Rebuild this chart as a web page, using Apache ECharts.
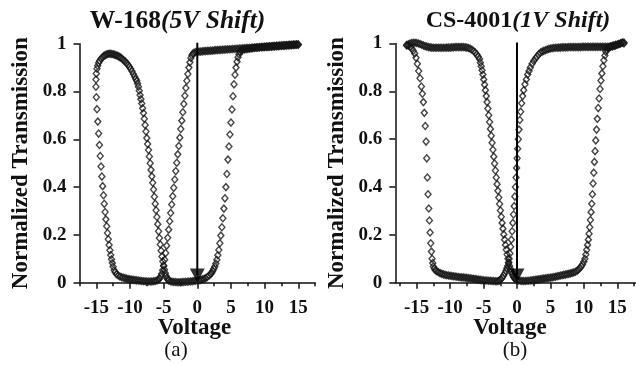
<!DOCTYPE html>
<html>
<head>
<meta charset="utf-8">
<script src="https://cdn.jsdelivr.net/npm/echarts@6/dist/echarts.min.js"></script>
<style>
  html, body { margin: 0; padding: 0; background: #fff; }
  #chart { width: 636px; height: 365px; }
</style>
</head>
<body>
<div id="chart"></div>
<script>
// Voltage sweeps, as [voltage, normalized transmission].
// DOWN = sweep from +V to -V, UP = sweep back from -V to +V.
const W168_DOWN = [
  [15,.997],[14.75,.997],[14.5,.996],[14.25,.996],[14,.995],[13.75,.995],[13.5,.994],[13.25,.994],[13,.993],[12.75,.993],
  [12.5,.992],[12.25,.992],[12,.991],[11.75,.991],[11.5,.99],[11.25,.99],[11,.989],[10.75,.989],[10.5,.988],[10.25,.988],
  [10,.987],[9.75,.987],[9.5,.986],[9.25,.986],[9,.985],[8.75,.985],[8.5,.984],[8.25,.984],[8,.983],[7.75,.983],
  [7.5,.982],[7.25,.982],[7,.981],[6.75,.981],[6.5,.98],[6.25,.98],[6,.979],[5.75,.979],[5.5,.978],[5.25,.978],
  [5,.977],[4.75,.977],[4.5,.976],[4.25,.976],[4,.975],[3.75,.975],[3.5,.974],[3.25,.974],[3,.973],[2.75,.973],
  [2.5,.972],[2.25,.971],[2,.971],[1.75,.97],[1.5,.97],[1.25,.969],[1,.969],[.75,.968],[.5,.967],[.25,.967],
  [0,.966],[-.25,.965],[-.5,.962],
  [-.65,.958],[-.8,.952],[-.95,.94],[-1.1,.922],[-1.25,.9],[-1.4,.873],[-1.55,.845],[-1.7,.815],[-1.85,.782],[-2,.748],
  [-2.15,.713],[-2.3,.678],[-2.45,.643],[-2.6,.607],[-2.75,.572],[-2.9,.537],[-3.05,.502],[-3.2,.467],[-3.35,.432],[-3.5,.397],
  [-3.65,.362],[-3.8,.327],[-3.95,.292],[-4.1,.257],[-4.25,.222],[-4.4,.188],[-4.55,.155],[-4.7,.124],[-4.85,.096],[-5,.072],
  [-5.15,.052],[-5.3,.037],[-5.45,.026],[-5.6,.018],[-5.75,.013],
  [-6,.009],[-6.25,.007],[-6.5,.006],[-6.75,.005],[-7,.005],[-7.25,.005],[-7.5,.005],[-7.75,.006],[-8,.006],[-8.25,.007],
  [-8.5,.008],[-8.75,.009],[-9,.01],[-9.25,.011],[-9.5,.012],[-9.75,.013],[-10,.014],[-10.25,.015],[-10.5,.017],[-10.75,.019],
  [-11,.021],[-11.25,.023],[-11.5,.026],[-11.75,.03],[-12,.036],[-12.2,.044],
  [-12.35,.052],[-12.5,.067],[-12.62,.082],[-12.74,.098],[-12.86,.116],[-12.98,.136],[-13.1,.158],[-13.22,.182],[-13.34,.208],[-13.46,.236],
  [-13.58,.265],[-13.7,.296],[-13.82,.33],[-13.94,.366],[-14.06,.404],[-14.18,.444],[-14.3,.486],[-14.42,.53],[-14.54,.576],[-14.66,.624],
  [-14.78,.674],[-14.9,.726],[-15,.776],[-15.06,.82]
];
const W168_UP = [
  [-15.05,.85],[-15,.875],[-14.9,.895],[-14.8,.908],[-14.65,.92],[-14.5,.929],[-14.3,.937],[-14.1,.943],[-13.9,.948],[-13.7,.952],
  [-13.5,.955],[-13.3,.957],[-13.1,.958],[-12.9,.958],[-12.7,.957],[-12.5,.956],[-12.3,.954],[-12.1,.952],[-11.9,.95],[-11.7,.947],
  [-11.5,.944],[-11.3,.94],[-11.1,.935],[-10.9,.93],[-10.7,.925],[-10.5,.919],[-10.3,.912],[-10.1,.904],[-9.9,.895],[-9.7,.885],
  [-9.5,.873],[-9.3,.862],[-9.125,.852],
  [-9,.845],[-8.875,.833],[-8.75,.82],[-8.625,.803],[-8.5,.785],[-8.375,.768],[-8.25,.75],[-8.125,.73],[-8,.71],[-7.875,.686],
  [-7.75,.66],[-7.625,.633],[-7.5,.605],[-7.375,.58],[-7.25,.555],[-7.125,.528],[-7,.5],[-6.875,.472],[-6.75,.445],[-6.625,.418],
  [-6.5,.39],[-6.375,.36],[-6.25,.33],[-6.125,.303],[-6,.275],[-5.875,.245],[-5.75,.215],[-5.625,.187],[-5.5,.16],[-5.375,.134],
  [-5.25,.11],[-5.125,.089],[-5,.07],[-4.875,.054],[-4.75,.04],[-4.625,.028],[-4.5,.019],[-4.375,.013],
  [-4.25,.009],[-4,.006],[-3.75,.004],[-3.5,.003],[-3.25,.003],[-3,.002],[-2.75,.002],[-2.5,.002],[-2.25,.003],[-2,.003],
  [-1.75,.004],[-1.5,.004],[-1.25,.005],[-1,.005],[-.75,.006],[-.5,.007],[-.25,.008],[0,.009],[.25,.01],[.5,.012],
  [.75,.014],[1,.016],[1.25,.019],[1.5,.024],[1.75,.03],[2,.036],[2.15,.042],
  [2.3,.05],[2.45,.058],[2.6,.068],[2.75,.08],[2.9,.096],[3.05,.115],[3.2,.137],[3.35,.165],[3.5,.197],[3.65,.232],
  [3.8,.27],[3.95,.31],[4.1,.353],[4.25,.4],[4.4,.455],[4.55,.515],[4.7,.57],[4.85,.62],[5,.67],[5.15,.725],
  [5.3,.78],[5.45,.83],[5.6,.87],[5.75,.9],[5.9,.925],[6.05,.943],[6.2,.956],[6.35,.965],[6.5,.97],[6.7,.973],
  [7,.976],[7.25,.977],[7.5,.978],[7.75,.979],[8,.98],[8.25,.981],[8.5,.982],[8.75,.983],[9,.983],[9.25,.984],
  [9.5,.985],[9.75,.985],[10,.986],[10.25,.987],[10.5,.987],[10.75,.988],[11,.988],[11.25,.989],[11.5,.989],[11.75,.99],
  [12,.99],[12.25,.991],[12.5,.991],[12.75,.992],[13,.992],[13.25,.993],[13.5,.993],[13.75,.994],[14,.994],[14.25,.995],
  [14.5,.995],[14.75,.996],[15,.996]
];
const CS4001_DOWN = [
  [16,1.0],[15.75,1.003],[15.5,1.001],[15.25,.998],[15,.995],[14.75,.992],[14.5,.99],[14.25,.988],[14,.987],[13.75,.986],
  [13.5,.986],[13.25,.986],[13,.986],[12.75,.986],[12.5,.986],[12.25,.986],[12,.986],[11.75,.986],[11.5,.986],[11.25,.986],
  [11,.986],[10.75,.986],[10.5,.986],[10.25,.986],[10,.986],[9.75,.986],[9.5,.985],[9.25,.985],[9,.985],[8.75,.985],
  [8.5,.985],[8.25,.985],[8,.985],[7.75,.985],[7.5,.984],[7.25,.984],[7,.984],[6.75,.984],[6.5,.983],[6.25,.983],
  [6,.982],[5.75,.982],[5.5,.981],[5.25,.98],[5,.979],[4.75,.977],[4.5,.975],[4.25,.972],[4,.969],[3.75,.966],
  [3.5,.962],[3.25,.955],[3,.946],[2.75,.937],[2.5,.927],[2.25,.915],[2,.9],[1.8,.885],[1.6,.87],[1.4,.85],
  [1.2,.83],[1,.805],[.85,.78],[.7,.75],[.55,.715],[.42,.68],[.3,.64],[.2,.6],[.1,.56],[.02,.52],
  [-.06,.48],[-.14,.44],[-.23,.4],[-.32,.36],[-.42,.32],[-.52,.285],[-.62,.25],[-.73,.215],[-.84,.18],[-.95,.15],
  [-1.06,.122],[-1.17,.1],[-1.28,.083],[-1.4,.07],[-1.52,.06],[-1.65,.05],[-1.8,.04],[-2,.03],[-2.2,.021],[-2.4,.014],
  [-2.6,.01],[-2.8,.007],
  [-3,.006],[-3.25,.006],[-3.5,.007],[-3.75,.007],[-4,.008],[-4.25,.008],[-4.5,.009],[-4.75,.009],[-5,.01],[-5.25,.011],
  [-5.5,.012],[-5.75,.013],[-6,.014],[-6.25,.015],[-6.5,.016],[-6.75,.017],[-7,.018],[-7.25,.019],[-7.5,.02],[-7.75,.021],
  [-8,.022],[-8.25,.022],[-8.5,.023],[-8.75,.024],[-9,.025],[-9.25,.026],[-9.5,.027],[-9.75,.028],[-10,.029],[-10.25,.03],
  [-10.5,.031],[-10.75,.033],[-11,.035],[-11.25,.037],[-11.5,.04],[-11.75,.044],[-12,.048],
  [-12.2,.052],[-12.35,.058],[-12.5,.068],[-12.6,.082],[-12.7,.1],[-12.8,.13],[-12.9,.165],[-13,.21],[-13.1,.26],[-13.2,.31],
  [-13.3,.37],[-13.4,.44],[-13.5,.52],[-13.6,.59],[-13.72,.655],[-13.86,.71],[-14,.755],[-14.15,.79],[-14.3,.82],[-14.5,.855],
  [-14.7,.885],[-14.9,.915],[-15.1,.94],[-15.3,.958],[-15.5,.97],[-15.75,.98],[-16,.987],[-16.25,.991],[-16.5,.993]
];
const CS4001_UP = [
  [-16.5,.993],[-16.25,.997],[-16,1.0],[-15.75,1.002],[-15.5,1.003],[-15.25,1.003],[-15,1.002],[-14.75,1.0],[-14.5,.998],[-14.25,.995],
  [-14,.992],[-13.75,.989],[-13.5,.987],[-13.25,.985],[-13,.984],[-12.75,.983],[-12.5,.982],[-12.25,.982],[-12,.982],[-11.75,.982],
  [-11.5,.982],[-11.25,.982],[-11,.982],[-10.75,.982],[-10.5,.983],[-10.25,.983],[-10,.983],[-9.75,.984],[-9.5,.984],[-9.25,.985],
  [-9,.985],[-8.75,.985],[-8.5,.985],[-8.25,.985],[-8,.985],[-7.75,.984],[-7.5,.983],[-7.25,.981],[-7,.978],[-6.75,.974],
  [-6.5,.969],[-6.25,.962],[-6,.954],[-5.8,.945],
  [-5.6,.935],[-5.475,.92],[-5.35,.905],[-5.225,.888],[-5.1,.87],[-4.975,.85],[-4.85,.828],[-4.725,.805],[-4.6,.78],[-4.475,.755],
  [-4.35,.728],[-4.225,.7],[-4.1,.672],[-3.975,.643],[-3.85,.614],[-3.725,.585],[-3.6,.556],[-3.475,.527],[-3.35,.498],[-3.225,.469],
  [-3.1,.44],[-2.975,.412],[-2.85,.384],[-2.725,.356],[-2.6,.329],[-2.475,.302],[-2.35,.276],[-2.225,.25],[-2.1,.226],[-1.975,.202],
  [-1.85,.18],[-1.725,.158],[-1.6,.138],[-1.475,.118],[-1.35,.1],[-1.225,.084],[-1.1,.07],[-.975,.057],[-.85,.046],[-.725,.037],
  [-.6,.029],[-.475,.023],[-.35,.018],[-.225,.014],
  [0,.011],[.25,.009],[.5,.008],[.75,.007],[1,.007],[1.25,.007],[1.5,.008],[1.75,.008],[2,.009],[2.25,.01],
  [2.5,.011],[2.75,.012],[3,.013],[3.25,.014],[3.5,.015],[3.75,.016],[4,.017],[4.25,.018],[4.5,.019],[4.75,.02],
  [5,.021],[5.25,.022],[5.5,.024],[5.75,.025],[6,.027],[6.25,.028],[6.5,.03],[6.75,.031],[7,.033],[7.25,.034],
  [7.5,.036],[7.75,.037],[8,.039],[8.25,.041],[8.5,.043],[8.75,.046],[9,.05],[9.2,.055],[9.4,.061],
  [9.6,.068],[9.8,.076],[10,.088],[10.15,.1],[10.3,.118],[10.42,.137],[10.55,.158],[10.67,.18],[10.78,.205],[10.88,.232],
  [10.98,.262],[11.08,.295],[11.18,.33],[11.28,.37],[11.38,.415],[11.48,.46],[11.58,.505],[11.68,.55],[11.78,.595],[11.9,.64],
  [12.02,.685],[12.15,.73],[12.28,.77],[12.42,.81],[12.56,.845],[12.7,.875],[12.85,.905],[13,.93],[13.15,.95],[13.3,.965],
  [13.45,.975],[13.6,.98],[13.8,.984],[14,.987],[14.25,.99],[14.5,.992],[14.75,.994],[15,.996],[15.25,.998],[15.5,1.0],
  [15.75,1.004],[16,1.004]
];

// Arrow at 0 V in both panels: shaft from top to bottom, head at the lower end.
const ARROW_A = [[0, 1.01], [0, 0.03]];
const ARROW_B = [[0, 1.01], [0, 0.03]];

const X_MAJOR = [-15, -10, -5, 0, 5, 10, 15];
const X_MINOR = [-17.5, -12.5, -7.5, -2.5, 2.5, 7.5, 12.5, 17.5];

const FONT = "'Liberation Serif', 'Times New Roman', serif";
const INK = '#111';
const axisStroke = { color: INK, width: 1.5 };
const tickFont = { color: INK, fontFamily: FONT, fontWeight: 'bold', fontSize: 19 };

function xAxes(gridIndex, min, max) {
  return [
    {
      type: 'value', gridIndex, min, max, position: 'bottom',
      axisLine: { show: true, onZero: false, lineStyle: axisStroke },
      axisTick: { show: true, length: 6, customValues: X_MAJOR, lineStyle: axisStroke },
      axisLabel: { show: true, customValues: X_MAJOR, margin: 16, ...tickFont },
      splitLine: { show: false },
    },
    {
      // minor ticks only
      type: 'value', gridIndex, min, max, position: 'bottom',
      axisLine: { show: false, onZero: false },
      axisTick: { show: true, length: 3.5, customValues: X_MINOR, lineStyle: axisStroke },
      axisLabel: { show: false },
      splitLine: { show: false },
    },
  ];
}

function yAxis(gridIndex) {
  return {
    type: 'value', gridIndex, min: 0, max: 1, interval: 0.2,
    name: 'Normalized Transmission', nameLocation: 'middle', nameGap: 47, nameRotate: 90,
    nameTextStyle: { color: INK, fontFamily: FONT, fontWeight: 'bold', fontSize: 23 },
    axisLine: { show: true, onZero: false, lineStyle: axisStroke },
    axisTick: { show: true, length: 6, lineStyle: axisStroke },
    axisLabel: { margin: 13, ...tickFont },
    splitLine: { show: false },
  };
}

function sweep(data, xAxisIndex, yAxisIndex) {
  return {
    type: 'scatter', data, xAxisIndex, yAxisIndex, clip: false,
    symbol: 'diamond', symbolSize: [6, 7],
    itemStyle: { color: 'rgba(255,255,255,0)', borderColor: '#151515', borderWidth: 1.4 },
    emphasis: { disabled: true },
  };
}

function arrow(pts, xAxisIndex, yAxisIndex) {
  return [
    {
      type: 'line', data: pts, xAxisIndex, yAxisIndex, showSymbol: false, silent: true,
      lineStyle: { color: '#000', width: 2 }, z: 3,
    },
    {
      type: 'scatter', data: [pts[1]], xAxisIndex, yAxisIndex, clip: false, silent: true,
      symbol: 'triangle', symbolRotate: 180, symbolSize: [15, 14],
      itemStyle: { color: '#000' }, z: 4,
    },
  ];
}

function label(text, x, y, size, weight) {
  return {
    type: 'text', x, y,
    style: { text, fill: INK, fontFamily: FONT, fontSize: size, fontWeight: weight, align: 'center', verticalAlign: 'middle' },
  };
}

function title(name, shift, x, size) {
  return {
    type: 'text', x, y: 21,
    style: {
      text: `{b|${name}}{i|${shift}}`, align: 'center', verticalAlign: 'middle', fill: INK,
      rich: {
        b: { fontFamily: FONT, fontWeight: 'bold', fontSize: size, fill: INK },
        i: { fontFamily: FONT, fontWeight: 'bold', fontStyle: 'italic', fontSize: size, fill: INK },
      },
    },
  };
}

const chart = echarts.init(document.getElementById('chart'), null, { renderer: 'canvas' });
chart.setOption({
  animation: false,
  backgroundColor: '#fff',
  grid: [
    { left: 79.5, top: 43.7, width: 235.6, height: 239, outerBoundsMode: 'none' },
    { left: 395.3, top: 43.5, width: 240.7, height: 239.2, outerBoundsMode: 'none' },
  ],
  xAxis: [...xAxes(0, -17.5, 17.5), ...xAxes(1, -18.2, 17.8)],
  yAxis: [yAxis(0), yAxis(1)],
  series: [
    sweep(W168_DOWN, 0, 0),
    sweep(W168_UP, 0, 0),
    ...arrow(ARROW_A, 0, 0),
    sweep(CS4001_DOWN, 2, 1),
    sweep(CS4001_UP, 2, 1),
    ...arrow(ARROW_B, 2, 1),
  ],
  graphic: [
    title('W-168', '(5V Shift)', 177.5, 25.5),
    title('CS-4001', '(1V Shift)', 518, 24),
    label('Voltage', 194.5, 328, 23, 'bold'),
    label('Voltage', 510, 328, 23, 'bold'),
    label('(a)', 176, 350, 21, 'normal'),
    label('(b)', 515, 350, 21, 'normal'),
  ],
});
</script>
</body>
</html>
